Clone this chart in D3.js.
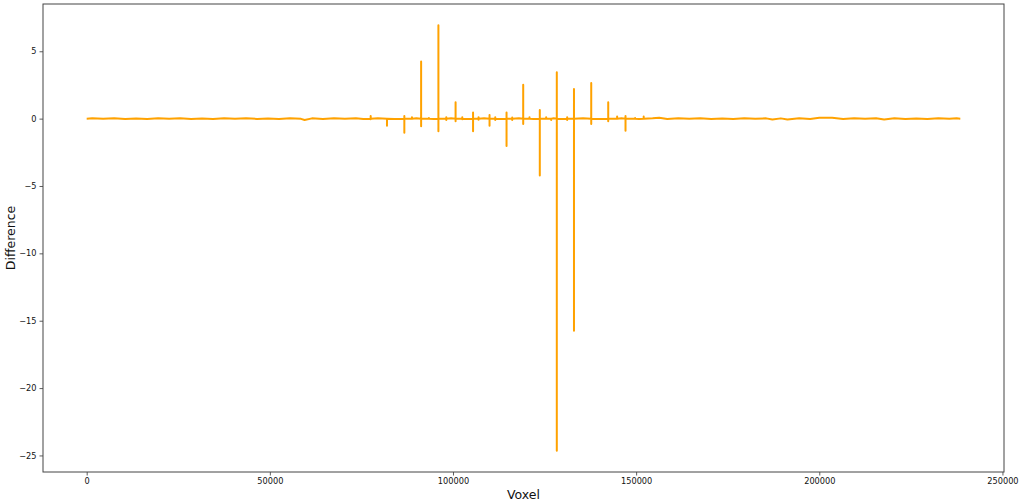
<!DOCTYPE html>
<html>
<head>
<meta charset="utf-8">
<script src="https://cdn.jsdelivr.net/npm/d3@7"></script>
<style>
  html, body { margin: 0; padding: 0; background: #fff; }
  svg { display: block; font-family: "DejaVu Sans", sans-serif; }
</style>
</head>
<body>
<svg id="chart" width="1021" height="504"></svg>
<script>
// ---- data ----
const voxelStart = 0;
const voxelEnd = 238500;

const spikeVoxel = [77530, 81980, 86720, 88800, 91300, 93430, 96020, 98170, 100710, 102540,
  105480, 106980, 109980, 111540, 114620, 116170, 119170, 120890, 123700, 125440,
  126810, 128340, 131170, 133030, 137740, 142380, 144810, 147100, 149720, 152060];

const spikeValues = [
  [0.2, -0.05], [-0.52], [0.2, -1.04], [0.1], [0.97, 4.25, -0.57],
  [0.05], [6.93, 3.99, -0.94], [0.1, -0.1], [1.21, -0.2], [0.1, -0.05],
  [0.45, -0.94], [0.1, -0.08], [0.27, -0.52], [0.1, -0.1], [0.45, -2.03],
  [0.08, -0.1], [2.52, -0.4], [0.1], [0.64, -4.23], [0.1],
  [-0.1], [3.44, 2.82, -24.65, -14.0], [0.1, -0.1], [2.2, 1.83, -15.74], [2.65, -0.4],
  [1.21, -0.2], [0.15], [0.2, -0.89], [0.05], [0.15]
];

const noiseVoxel = [1500, 4500, 7500, 10500, 13500, 16500, 19500, 22500, 25500, 28500,
  31500, 34500, 37500, 40500, 43500, 46500, 49500, 52500, 55500, 58500,
  59500, 61500, 64500, 67500, 70500, 73500, 75500, 79500, 84000, 90000,
  94800, 99500, 104000, 108500, 113000, 118000, 122000, 127500, 130000, 135500,
  140000, 146000, 150800, 154500, 156300, 158500, 161500, 164500, 167500, 170500,
  173500, 176500, 179500, 182500, 185500, 187200, 189500, 191300, 194500, 197500,
  200000, 203500, 206500, 209500, 212500, 215500, 217700, 220500, 223500, 226500,
  229500, 232500, 235500, 237500];

const noiseValue = [0.02, -0.015, 0.02, -0.02, 0.015, -0.02, 0.02, -0.015, 0.02, -0.02,
  0.015, -0.02, 0.02, -0.015, 0.02, -0.02, 0.015, -0.02, 0.02, -0.015,
  -0.1, 0.02, -0.02, 0.02, -0.015, 0.02, -0.02, 0.02, -0.02, 0.02,
  -0.02, 0.02, -0.02, 0.02, -0.02, 0.02, -0.02, 0.02, -0.02, 0.02,
  -0.02, 0.02, -0.02, 0.02, 0.07, -0.02, 0.02, -0.015, 0.02, -0.02,
  0.015, -0.02, 0.02, -0.015, 0.02, -0.07, 0.02, -0.06, 0.02, -0.02,
  0.06, 0.06, -0.02, 0.02, -0.015, 0.02, -0.06, 0.02, -0.02, 0.015,
  -0.02, 0.02, -0.015, 0.02];

const xTickValues = [0, 50000, 100000, 150000, 200000, 250000];
const xTickLabels = ["0", "50000", "100000", "150000", "200000", "250000"];
const yTickValues = [-25, -20, -15, -10, -5, 0, 5];
const yTickLabels = ["\u221225", "\u221220", "\u221215", "\u221210", "\u22125", "0", "5"];

const xLabel = "Voxel";
const yLabel = "Difference";

// ---- build the line's points from the arrays ----
let points = [{ x: voxelStart, y: 0 }];
noiseVoxel.forEach((v, i) => points.push({ x: v, y: noiseValue[i] }));
spikeVoxel.forEach((v, i) => {
  const vals = spikeValues[i];
  points.push({ x: v - 1, y: 0 });
  vals.forEach((val, j) => points.push({ x: v + j, y: val }));
  points.push({ x: v + vals.length, y: 0 });
});
points.push({ x: voxelEnd, y: 0 });
points.sort((a, b) => a.x - b.x);

// ---- layout ----
const svg = d3.select("#chart");
const L = 43, R = 1004, T = 4, B = 472;

const xSpan = voxelEnd - voxelStart;
const x = d3.scaleLinear()
  .domain([voxelStart - 0.05 * xSpan, voxelEnd + 0.05 * xSpan])
  .range([L, R]);

const [yMin, yMax] = d3.extent(points, d => d.y);
const ySpan = yMax - yMin;
const y = d3.scaleLinear()
  .domain([yMin - 0.05 * ySpan, yMax + 0.05 * ySpan])
  .range([B, T]);

// line
const line = d3.line().x(d => x(d.x)).y(d => y(d.y));
svg.append("path")
  .datum(points)
  .attr("d", line)
  .attr("fill", "none")
  .attr("stroke", "#ffa200")
  .attr("stroke-width", 2)
  .attr("stroke-linejoin", "round");

// axes
const xAxis = d3.axisBottom(x)
  .tickValues(xTickValues)
  .tickFormat((d, i) => xTickLabels[i])
  .tickSizeInner(3.5).tickSizeOuter(0).tickPadding(3);
const yAxis = d3.axisLeft(y)
  .tickValues(yTickValues)
  .tickFormat((d, i) => yTickLabels[i])
  .tickSizeInner(3.5).tickSizeOuter(0).tickPadding(3);

const gx = svg.append("g").attr("transform", `translate(0,${B})`).call(xAxis);
const gy = svg.append("g").attr("transform", `translate(${L},0)`).call(yAxis);
[gx, gy].forEach(g => {
  g.select(".domain").remove();
  g.selectAll(".tick line").attr("stroke", "#333").attr("stroke-width", 0.8);
  g.selectAll(".tick text").attr("fill", "#111")
    .style("font-family", "DejaVu Sans").style("font-size", "8.2px");
});

// frame (spines)
svg.append("rect")
  .attr("x", L).attr("y", T)
  .attr("width", R - L).attr("height", B - T)
  .attr("fill", "none").attr("stroke", "#444").attr("stroke-width", 1);

// axis labels
svg.append("text")
  .attr("x", (L + R) / 2).attr("y", 499)
  .attr("text-anchor", "middle")
  .style("font-size", "12.5px").attr("fill", "#111")
  .text(xLabel);
svg.append("text")
  .attr("transform", `translate(14.5,${(T + B) / 2}) rotate(-90)`)
  .attr("text-anchor", "middle")
  .style("font-size", "12.5px").attr("fill", "#111")
  .text(yLabel);
</script>
</body>
</html>
